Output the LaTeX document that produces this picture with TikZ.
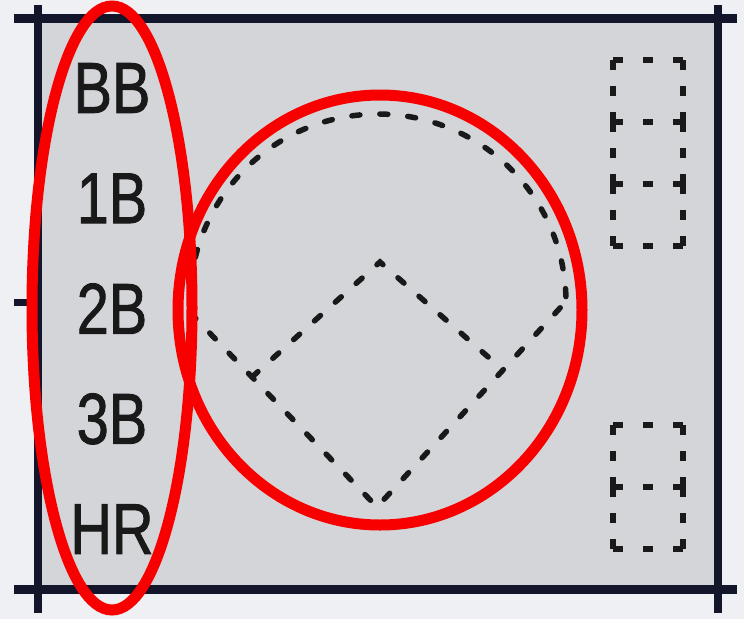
\documentclass[tikz,border=0pt]{standalone}
\usepackage{fontspec}
\setmainfont{Liberation Sans}
\newfontfamily\hitfont{Liberation Sans}[FakeBold=1.4]
\usepackage{graphicx}
\usepackage{tikz}
\usetikzlibrary{calc}
\definecolor{ink}{HTML}{13162B}
\definecolor{card}{HTML}{D3D5D9}
\definecolor{paper}{HTML}{EEF0F4}
\definecolor{marker}{HTML}{F80000}

\begin{document}
\begin{tikzpicture}[x=1pt, y=-1pt,
    rule/.style={ink, line width=9pt},
    fieldline/.style={black!90, line width=5.5pt, line cap=round, dash pattern=on 8pt off 20pt},
    boxline/.style={black!90, line width=5.5pt},
    hit/.style={inner sep=0pt, text=black!90, font=\hitfont\fontsize{72}{72}\selectfont},
    circled/.style={marker, line width=11pt}]
    \pgfmathsetmacro{\bw}{70}
    \pgfmathsetmacro{\bh}{62}
    % card and its frame
    \useasboundingbox (0,0) rectangle (744,619);
    \fill[paper] (0,0) rectangle (744,619);
    \fill[card] (38,18) rectangle (718,589);
    \draw[rule] (14,18) -- (737,18);
    \draw[rule] (14,589) -- (737,589);
    \draw[rule, line width=8pt] (38,5) -- (38,613);
    \draw[rule, line width=8pt] (718,5) -- (718,613);
    \draw[rule, line width=7pt] (14,302) -- (38,302);
    % hit labels
    \foreach \lab/\nm [count=\k from 0] in {BB/lbb,1B/l1b,2B/l2b,3B/l3b,HR/lhr}
      \node[hit] (\nm) at (112,{88+110.3*\k}) {\scalebox{0.8}[1]{\lab}};
    % field: bases, foul lines, outfield
    \coordinate (home) at (377,507);
    \coordinate (first) at (503,370);
    \coordinate (second) at (380,262);
    \coordinate (third) at (252,377);
    \coordinate (lfoul) at ($(home)!1.4935!(third)$);
    \coordinate (rfoul) at ($(home)!1.5!(first)$);
    \draw[fieldline] (lfoul) -- (third) -- (home) -- (first) -- (rfoul);
    \draw[fieldline] (third) -- (second) -- (first);
    \draw[fieldline] (lfoul) arc[start angle=176.7, end angle=360, radius=188];
    % dashed score boxes
    \foreach \yb/\n in {60/3, 425/2} {
      \foreach \i in {0,...,\n}
        \draw[boxline, dash pattern=on 10pt off 20pt] (613,{\yb+\bh*\i}) -- ++(\bw,0);
      \foreach \i in {1,...,\n} {
        \draw[boxline, dash pattern=on 10pt off 16pt] (613,{\yb+\bh*(\i-1)}) -- ++(0,\bh);
        \draw[boxline, dash pattern=on 10pt off 16pt] (683,{\yb+\bh*(\i-1)}) -- ++(0,\bh);
      }
    }
    % red marks
    \draw[circled] (112,308) ellipse[x radius=80, y radius=302];
    \draw[circled] (380,310) ellipse[x radius=202, y radius=215];
\end{tikzpicture}
\end{document}
